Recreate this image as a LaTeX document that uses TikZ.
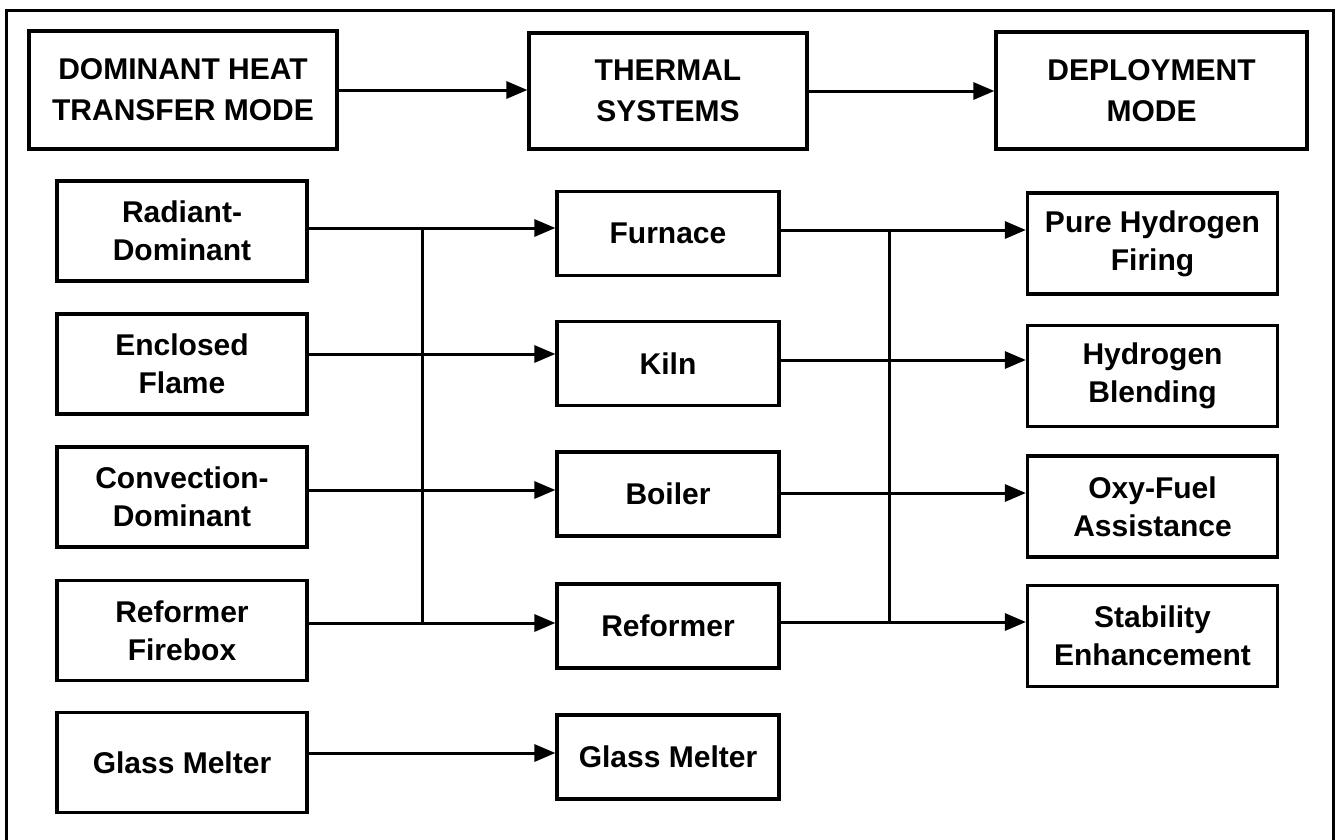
\documentclass[tikz,border=0pt]{standalone}
\usepackage{fontspec}
\setmainfont{Liberation Sans}
\usetikzlibrary{arrows.meta}
\begin{document}
\begin{tikzpicture}[x=1bp,y=-1bp,
  box/.style={draw, line width=3.2bp, align=center, inner sep=0pt, font=\fontsize{30bp}{38bp}\selectfont\bfseries},
  hbox/.style={box, font=\fontsize{30bp}{41bp}\selectfont\bfseries},
  lbox/.style={box, minimum width=250bp, minimum height=100bp},
  mbox/.style={box, minimum width=222bp, minimum height=84bp},
  rbox/.style={box, minimum width=250bp, minimum height=101bp},
  conn/.style={line width=3bp},
  arr/.style={conn, -{Triangle[length=21bp,width=17bp]}}]
\clip (0,0) rectangle (1339,839);
\fill[white] (0,0) rectangle (1339,839);
\draw[line width=3bp] (6,10) rectangle (1333,880);
% headers
\node[hbox, minimum width=308bp, minimum height=118bp] (dom) at (183,90) {DOMINANT HEAT\\TRANSFER MODE};
\node[hbox, minimum width=278bp, minimum height=116bp] (therm) at (668,91) {THERMAL\\SYSTEMS};
\node[hbox, minimum width=311bp, minimum height=117bp] (dep) at (1151.5,90.5) {DEPLOYMENT\\MODE};
\draw[arr] (dom.east) -- (dom.east -| therm.west);
\draw[arr] (therm.east) -- (therm.east -| dep.west);
% left column
\node[lbox] (rad) at (182,231) {Radiant-\\Dominant};
\node[lbox] (enc) at (182,364) {Enclosed\\Flame};
\node[lbox] (conv) at (182,497) {Convection-\\Dominant};
\node[lbox] (refb) at (182,630.5) {Reformer\\Firebox};
\node[lbox] (glassl) at (182,762.5) {Glass Melter};
% middle column
\node[mbox] (furn) at (668,233.5) {Furnace};
\node[mbox] (kiln) at (668,363.5) {Kiln};
\node[mbox] (boil) at (668,494) {Boiler};
\node[mbox] (ref) at (668,626) {Reformer};
\node[mbox] (glassm) at (668,757) {Glass Melter};
% right column
\node[rbox] (pure) at (1152.5,243.5) {Pure Hydrogen\\Firing};
\node[rbox] (blend) at (1152.5,376) {Hydrogen\\Blending};
\node[rbox] (oxy) at (1152.5,506.5) {Oxy-Fuel\\Assistance};
\node[rbox] (stab) at (1152.5,636) {Stability\\Enhancement};
% row levels and junctions
\coordinate (jl) at (422,0);
\coordinate (jr) at (889,0);
\coordinate (l1) at (0,228);
\coordinate (l2) at (0,354);
\coordinate (l3) at (0,490);
\coordinate (l4) at (0,623);
\coordinate (l5) at (0,753);
\coordinate (r1) at (0,230);
\coordinate (r2) at (0,360);
\coordinate (r3) at (0,493);
\coordinate (r4) at (0,622);
% left connectors
\draw[arr] (rad.east |- l1) -- (furn.west |- l1);
\draw[arr] (enc.east |- l2) -- (kiln.west |- l2);
\draw[arr] (conv.east |- l3) -- (boil.west |- l3);
\draw[arr] (refb.east |- l4) -- (ref.west |- l4);
\draw[arr] (glassl.east |- l5) -- (glassm.west |- l5);
\draw[conn] (jl |- l1) -- (jl |- l4);
% right connectors
\draw[arr] (furn.east |- r1) -- (pure.west |- r1);
\draw[arr] (kiln.east |- r2) -- (blend.west |- r2);
\draw[arr] (boil.east |- r3) -- (oxy.west |- r3);
\draw[arr] (ref.east |- r4) -- (stab.west |- r4);
\draw[conn] (jr |- r1) -- (jr |- r4);
\end{tikzpicture}
\end{document}
